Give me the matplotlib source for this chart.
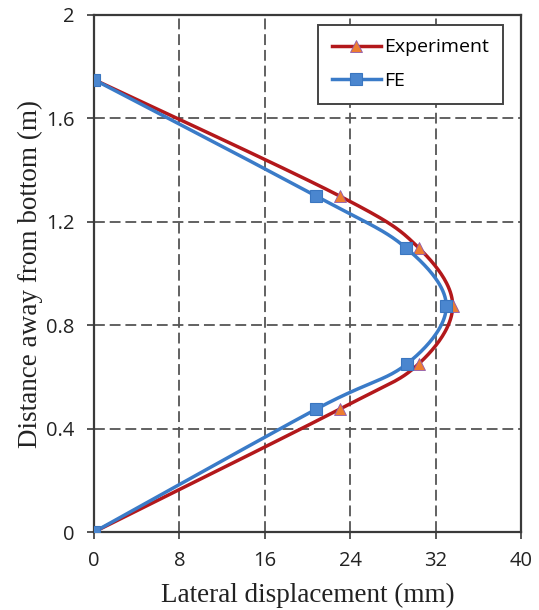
import matplotlib
matplotlib.use("Agg")
import matplotlib.pyplot as plt
import numpy as np

# lateral displacement (mm) vs height above base (m)
height = [0.0, 0.475, 0.65, 0.875, 1.1, 1.3, 1.75]
disp_exp = [0.0, 23.0, 30.4, 33.6, 30.4, 23.0, 0.0]
disp_fe = [0.0, 20.8, 29.3, 33.0, 29.2, 20.8, 0.0]

x_ticks = [0, 8, 16, 24, 32, 40]
y_ticks = [0, 0.4, 0.8, 1.2, 1.6, 2.0]
y_tick_labels = ["0", "0.4", "0.8", "1.2", "1.6", "2"]


def smooth(xs, ys, n=40):
    # Catmull-Rom spline through the points (spreadsheet-style smoothed line)
    p = np.column_stack([xs, ys]).astype(float)
    p = np.vstack([p[0], p, p[-1]])
    out = []
    for i in range(1, len(p) - 2):
        p0, p1, p2, p3 = p[i - 1], p[i], p[i + 1], p[i + 2]
        t = np.linspace(0, 1, n)[:, None]
        seg = 0.5 * ((2 * p1) + (-p0 + p2) * t
                     + (2 * p0 - 5 * p1 + 4 * p2 - p3) * t ** 2
                     + (-p0 + 3 * p1 - 3 * p2 + p3) * t ** 3)
        out.append(seg)
    out = np.vstack(out)
    return out[:, 0], out[:, 1]


fig = plt.figure(figsize=(5.39, 6.10), dpi=100)
ax = fig.add_axes([94 / 539, 78 / 610, 427 / 539, 517 / 610])

red = "#B3181B"
blue = "#3A7BC8"
tri = dict(marker="^", ms=8, mfc="#ED7D31", mec="#8E5AB0", mew=0.6)
sq = dict(marker="s", ms=8.5, mfc="#4A86CF", mec="#3A76C0", mew=0.8)

sx, sy = smooth(disp_exp, height)
ax.plot(sx, sy, color=red, lw=2.5, zorder=3)
ax.plot(disp_exp, height, ls="none", zorder=4, **tri)

fx, fy = smooth(disp_fe, height)
ax.plot(fx, fy, color=blue, lw=2.5, zorder=5)
ax.plot(disp_fe, height, ls="none", zorder=6, **sq)

# legend proxies: line with marker in the middle
ax.plot([], [], color=red, lw=2.5, label="Experiment", **tri)
ax.plot([], [], color=blue, lw=2.5, label="FE", **sq)

ax.set_xlim(0, 40)
ax.set_ylim(0, 2)
ax.set_xticks(x_ticks)
ax.set_yticks(y_ticks)
ax.set_yticklabels(y_tick_labels)

ax.grid(True, color="#555555", ls=(0, (6, 2.7)), lw=1.3)
ax.set_axisbelow(True)

for s in ax.spines.values():
    s.set_color("#3A3A3A")
    s.set_linewidth(1.6)

ax.tick_params(direction="out", length=5, width=1.2, color="#3A3A3A",
               labelsize=14.5, labelcolor="#222222", pad=9)
for lab in ax.get_xticklabels() + ax.get_yticklabels():
    lab.set_family("Open Sans")

ax.set_xlabel("Lateral displacement (mm)", family="Liberation Serif",
              fontsize=19.5, color="#222222", labelpad=8)
ax.set_ylabel("Distance away from bottom (m)", family="Liberation Serif",
              fontsize=19.5, color="#222222", labelpad=2)

leg = ax.legend(loc="upper right", bbox_to_anchor=(0.958, 0.981),
                prop={"family": "Open Sans", "size": 14},
                fancybox=False, framealpha=1, edgecolor="#444444",
                handlelength=2.5, handletextpad=0.2, labelspacing=0.8,
                borderpad=0.7, borderaxespad=0)
leg.get_frame().set_linewidth(1.4)

fig.savefig("out.png", dpi=100)
